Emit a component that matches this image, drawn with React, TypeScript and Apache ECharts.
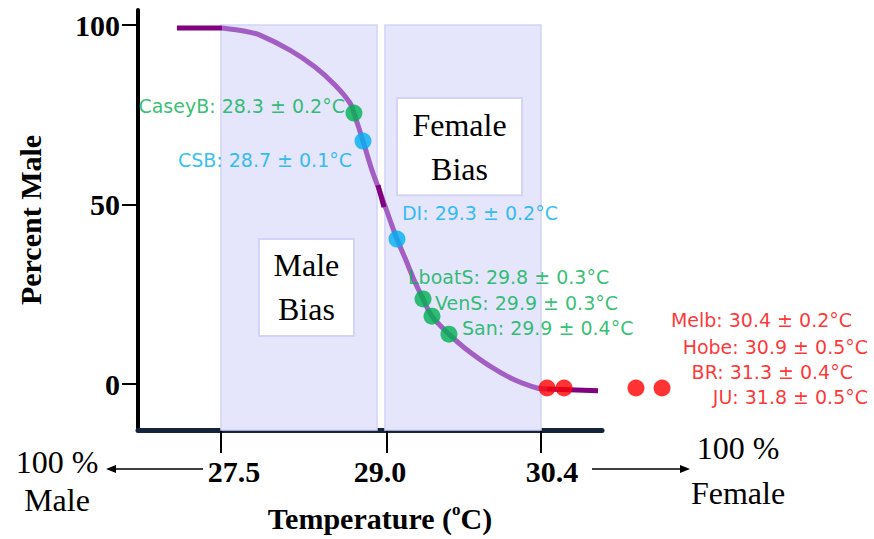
import React, { useEffect, useRef } from "react";
import * as echarts from "echarts";

// ---- axis ticks ----
const tempTicks = [27.5, 29.0, 30.4];
const tempTickLabels = ["27.5", "29.0", "30.4"];
const percentTicks = [0, 50, 100];

// ---- sigmoid curve ----
const plateauT = [27.101, 27.509];
const plateauP = [99.2, 99.2];
const curveT = [27.509, 27.718, 27.853, 28.125, 28.352, 28.533, 28.669, 28.705, 28.787, 28.868, 28.941, 29.032, 29.095, 29.168, 29.258, 29.331, 29.412, 29.566, 29.711, 29.938, 30.164, 30.364, 30.455];
const curveP = [99.2, 98.3, 97.2, 93.0, 88.3, 83.3, 78.3, 75.5, 67.7, 59.6, 53.5, 45.7, 40.4, 35.1, 28.4, 23.7, 18.9, 13.9, 10.0, 5.0, 1.1, -1.1, -1.4];
const midDarkT = [28.923, 28.977];
const midDarkP = [55.4, 49.3];
const tailT = [30.455, 30.917];
const tailP = [-1.4, -1.9];

// ---- sites ----
const siteNames = ["CaseyB", "CSB", "DI", "LboatS", "VenS", "San", "Melb", "Hobe", "BR", "JU"];
const sitePivotal = ["28.3", "28.7", "29.3", "29.8", "29.9", "29.9", "30.4", "30.9", "31.3", "31.8"];
const siteError = ["0.2", "0.1", "0.2", "0.3", "0.3", "0.4", "0.2", "0.5", "0.4", "0.5"];
const siteT = [28.705, 28.787, 29.095, 29.331, 29.412, 29.566, 30.455, 30.609, 31.261, 31.497];
const siteP = [75.5, 67.7, 40.4, 23.7, 18.9, 13.9, -1.1, -1.1, -1.1, -1.1];
const siteGroup = ["g", "b", "b", "g", "g", "g", "r", "r", "r", "r"];

// ---- styles ----
const groupColor: Record<string, string> = { g: "#00b050", b: "#00b0f0", r: "#ff0000" };
const labelAlign = ["right", "right", "left", "left", "left", "left", "right", "right", "right", "right"];
const labelOffset = [[-9, -7], [-11, 19], [5, -26], [-15, -22], [3, -13], [13, -6], [305, -68], [304, -41], [217, -16], [206, 9]];

const SERIF = "'Liberation Serif', 'Times New Roman', serif";
const SANS = "'DejaVu Sans', 'Open Sans', sans-serif";

const zip = (a: number[], b: number[]) => a.map((v, i) => [v, b[i]]);

export default function App() {
  const ref = useRef<HTMLDivElement>(null);
  useEffect(() => {
    if (!ref.current) return;
    const chart = echarts.init(ref.current, undefined, { renderer: "svg" });
    const tickRich: any = {
      t0: { fontFamily: SERIF, fontWeight: "bold", fontSize: 30, color: "#000", padding: [0, 0, 0, 26] },
      t1: { fontFamily: SERIF, fontWeight: "bold", fontSize: 30, color: "#000", padding: [0, 13, 0, 0] },
      t2: { fontFamily: SERIF, fontWeight: "bold", fontSize: 30, color: "#000", padding: [0, 0, 0, 22] },
    };
    const lav = "#e5e5fc";
    const lavBorder = "#d3d3f8";
    const option: any = {
      animation: false,
      grid: { left: 138, right: 272, top: 10, bottom: 109, outerBoundsMode: "none", containLabel: false },
      xAxis: {
        type: "value",
        min: 26.748,
        max: 30.953,
        name: "{a|Temperature (}{s|o}{a|C)}",
        nameLocation: "middle",
        nameGap: 71,
        nameTextStyle: {
          padding: [0, 0, 0, 20],
          rich: {
            a: { fontFamily: SERIF, fontWeight: "bold", fontSize: 30, color: "#000", lineHeight: 34 },
            s: { fontFamily: SERIF, fontWeight: "bold", fontSize: 17, color: "#000", verticalAlign: "top", lineHeight: 34 },
          },
        },
        splitLine: { show: false },
        axisLine: { onZero: false, lineStyle: { color: "#14243a", width: 5 } },
        axisTick: { customValues: tempTicks, length: 23, lineStyle: { color: "#000", width: 2 } },
        axisLabel: {
          customValues: tempTicks,
          margin: 26,
          formatter: (v: number) => {
            const i = tempTicks.findIndex((t) => Math.abs(t - v) < 1e-6);
            return i < 0 ? "" : `{t${i}|${tempTickLabels[i]}}`;
          },
          rich: tickRich,
        },
      },
      yAxis: {
        type: "value",
        min: -12.8,
        max: 104.2,
        name: "Percent Male",
        nameLocation: "middle",
        nameRotate: 90,
        nameGap: 93,
        nameTextStyle: { fontFamily: SERIF, fontWeight: "bold", fontSize: 30, color: "#000" },
        splitLine: { show: false },
        axisLine: { onZero: false, lineStyle: { color: "#000", width: 4 } },
        axisTick: { customValues: percentTicks, length: 16, lineStyle: { color: "#000", width: 2 } },
        axisLabel: {
          customValues: percentTicks,
          margin: 18,
          fontFamily: SERIF,
          fontWeight: "bold",
          fontSize: 30,
          color: "#000",
        },
      },
      series: [
        {
          type: "line",
          data: [],
          z: 1,
          silent: true,
          markArea: {
            silent: true,
            z: 1,
            itemStyle: { color: lav, borderColor: lavBorder, borderWidth: 1.5 },
            data: [
              [{ xAxis: 27.5, yAxis: 100 }, { xAxis: 28.914, yAxis: -12.8 }],
              [{ xAxis: 28.986, yAxis: 100 }, { xAxis: 30.4, yAxis: -12.8 }],
            ],
          },
        },
        {
          type: "line",
          data: [],
          z: 2,
          silent: true,
          markArea: {
            silent: true,
            z: 2,
            itemStyle: { color: "#ffffff", borderColor: lavBorder, borderWidth: 2 },
            label: {
              show: true,
              position: "inside",
              fontFamily: SERIF,
              fontSize: 32,
              lineHeight: 44,
              color: "#000",
            },
            data: [
              [{ name: "Male\nBias", xAxis: 27.844, yAxis: 40.4 }, { xAxis: 28.705, yAxis: 13.4 }],
              [{ name: "Female\nBias", xAxis: 29.095, yAxis: 79.7 }, { xAxis: 30.228, yAxis: 52.6 }],
            ],
          },
        },
        {
          type: "line",
          z: 3,
          data: zip(curveT, curveP),
          smooth: 0.3,
          symbol: "none",
          lineStyle: { color: "#a25ec2", width: 5 },
        },
        {
          type: "line",
          z: 3,
          data: zip(plateauT, plateauP),
          symbol: "none",
          lineStyle: { color: "#800080", width: 5 },
        },
        {
          type: "line",
          z: 3,
          data: zip(midDarkT, midDarkP),
          symbol: "none",
          lineStyle: { color: "#800080", width: 5 },
        },
        {
          type: "line",
          z: 3,
          data: zip(tailT, tailP),
          symbol: "none",
          lineStyle: { color: "#800080", width: 5 },
        },
        {
          type: "scatter",
          z: 4,
          clip: false,
          symbolSize: 17,
          data: siteNames.map((n, i) => ({
            name: n,
            value: [siteT[i], siteP[i]],
            itemStyle: { color: groupColor[siteGroup[i]] },
            label: {
              show: true,
              position: "inside",
              align: labelAlign[i],
              verticalAlign: "middle",
              offset: labelOffset[i],
              formatter: `${n}: ${sitePivotal[i]} ± ${siteError[i]}°C`,
              color: groupColor[siteGroup[i]],
              fontFamily: SANS,
              fontSize: 19,
              lineHeight: 20,
            },
          })),
        },
      ],
      graphic: [
        { type: "line", shape: { x1: 203, y1: 469, x2: 112, y2: 469 }, style: { stroke: "#000", lineWidth: 1.5 } },
        { type: "polygon", shape: { points: [[106, 469], [116, 465], [116, 473]] }, style: { fill: "#000" } },
        { type: "line", shape: { x1: 592, y1: 469, x2: 683, y2: 469 }, style: { stroke: "#000", lineWidth: 1.5 } },
        { type: "polygon", shape: { points: [[690, 469], [680, 465], [680, 473]] }, style: { fill: "#000" } },
        { type: "text", x: 57, y: 462, style: { text: "100 %", font: `32px ${SERIF}`, fill: "#000", align: "center", verticalAlign: "middle" } },
        { type: "text", x: 57, y: 500, style: { text: "Male", font: `32px ${SERIF}`, fill: "#000", align: "center", verticalAlign: "middle" } },
        { type: "text", x: 738, y: 448, style: { text: "100 %", font: `32px ${SERIF}`, fill: "#000", align: "center", verticalAlign: "middle" } },
        { type: "text", x: 738, y: 493, style: { text: "Female", font: `32px ${SERIF}`, fill: "#000", align: "center", verticalAlign: "middle" } },
      ],
    };
    chart.setOption(option);
    return () => chart.dispose();
  }, []);
  return <div ref={ref} style={{ position: "absolute", left: 0, top: 0, width: 874, height: 539 }} />;
}
